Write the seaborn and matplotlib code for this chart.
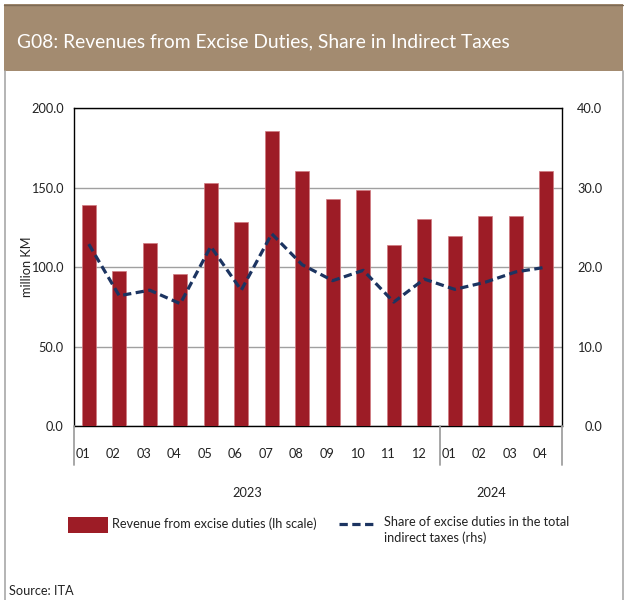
import numpy as np
import pandas as pd
import matplotlib
matplotlib.use("Agg")
import matplotlib.pyplot as plt
import matplotlib.transforms as mtransforms
from matplotlib.patches import Rectangle
from matplotlib.lines import Line2D
import seaborn as sns

# Monthly data, Jan 2023 - Apr 2024
years = ["2023"] * 12 + ["2024"] * 4
months = ["01", "02", "03", "04", "05", "06", "07", "08", "09", "10", "11", "12",
          "01", "02", "03", "04"]
revenue = [139.0, 97.5, 115.0, 96.0, 153.0, 128.3, 186.0, 160.8, 142.8, 148.4,
           113.8, 130.2, 119.7, 132.0, 132.0, 160.8]
share = [22.9, 16.4, 17.1, 15.4, 22.6, 17.1, 24.2, 20.3, 18.3, 19.6,
         15.6, 18.5, 17.2, 18.1, 19.4, 20.0]

bar_label = "Revenue from excise duties (lh scale)"
line_label = "Share of excise duties in the total\nindirect taxes (rhs)"
title = "G08: Revenues from Excise Duties, Share in Indirect Taxes"

df = pd.DataFrame({"year": years, "month": months,
                   "revenue": revenue, "share": share})
df["period"] = df["year"] + "-" + df["month"]
df["pos"] = np.arange(len(df))

sns.set_theme(style="white")
plt.rcParams["font.family"] = ["Lato", "DejaVu Sans"]

W, H = 624, 600
fig = plt.figure(figsize=(W / 100, H / 100), dpi=100)

RED = "#9d1c26"
NAVY = "#1c3461"
BAND = "#a38b70"
TXT = "#222222"
FS = 9.2

# Header band and outer frame
fig.patches.append(Rectangle((4 / W, 1 - 71 / H), 619 / W, 67 / H,
                             transform=fig.transFigure, facecolor=BAND,
                             edgecolor="none", zorder=0))
fig.lines.append(Line2D([4 / W, 623 / W], [1 - 4.5 / H, 1 - 4.5 / H],
                        transform=fig.transFigure, color="#7d6a55", lw=1))
for xf in (4.5 / W, 622.5 / W):
    fig.lines.append(Line2D([xf, xf], [0, 1 - 71 / H],
                            transform=fig.transFigure, color="#a8a8a8", lw=1.2))
fig.text(17 / W, 1 - 42 / H, title, color="white", fontsize=13.9,
         ha="left", va="center")

ax = fig.add_axes([73.5 / W, 1 - 426 / H, 488 / W, 317.7 / H])
sns.barplot(data=df, x="period", y="revenue", order=list(df["period"]),
            color=RED, width=0.46, saturation=1, ax=ax,
            edgecolor="#d07a80", linewidth=0.5, zorder=3)
ax.set_xlim(-0.5, len(df) - 0.5)
ax.set_ylim(0, 200)
ax.set_yticks(np.arange(0, 201, 50))
ax.set_yticklabels([f"{v:.1f}" for v in np.arange(0, 201, 50)])
ax.yaxis.grid(True, color="#a0a0a0", lw=1)
ax.set_axisbelow(True)
ax.set_xlabel("")
ax.set_ylabel("million KM", fontsize=FS, color=TXT)
ax.yaxis.set_label_coords((33 - 73.5) / 488, 0.5)
ax.tick_params(axis="y", length=0, pad=7, labelsize=FS, colors=TXT)
ax.set_xticks([])
for s in ax.spines.values():
    s.set_color("black")
    s.set_linewidth(1)

ax2 = ax.twinx()
sns.lineplot(data=df, x="pos", y="share", ax=ax2, color=NAVY, lw=2.3,
             zorder=4)
ax2.lines[0].set_dashes((2.6, 1.4))
ax2.set_ylim(0, 40)
ax2.set_xlim(-0.5, len(df) - 0.5)
ax2.set_yticks(np.arange(0, 41, 10))
ax2.set_yticklabels([f"{v:.1f}" for v in np.arange(0, 41, 10)])
ax2.tick_params(axis="y", length=0, pad=29.5, labelsize=FS, colors=TXT)
for lbl in ax2.get_yticklabels():
    lbl.set_horizontalalignment("right")
ax2.set_ylabel("")
ax2.set_xlabel("")
ax2.grid(False)
for s in ax2.spines.values():
    s.set_visible(False)

# Month labels and year group separators below the axis
shift = mtransforms.ScaledTranslation(-6 / 100, 0, fig.dpi_scale_trans)
xt = mtransforms.blended_transform_factory(ax.transData, fig.transFigure)
for p, m in zip(df["pos"], df["month"]):
    fig.text(p, 1 - 454 / H, m, transform=xt + shift, ha="center",
             va="center", fontsize=FS, color=TXT)
n23 = years.count("2023")
for xs in (-0.5, n23 - 0.5, len(df) - 0.5):
    fig.lines.append(Line2D([xs, xs], [1 - 426 / H, 1 - 465 / H],
                            transform=xt, color="#a0a0a0", lw=1.3))
for yr, xc in (("2023", (n23 - 1) / 2 - 0.3), ("2024", n23 + 1.5 - 0.3)):
    fig.text(xc, 1 - 493 / H, yr, transform=xt, ha="center", va="center",
             fontsize=FS, color=TXT)

# Legend
fig.patches.append(Rectangle((68 / W, 1 - 533 / H), 40 / W, 16 / H,
                             transform=fig.transFigure, facecolor=RED,
                             edgecolor="none"))
fig.text(112 / W, 1 - 524 / H, bar_label, ha="left", va="center",
         fontsize=FS, color=TXT)
leg_line = Line2D([339 / W, 377 / W], [1 - 524 / H, 1 - 524 / H],
                  transform=fig.transFigure, color=NAVY, lw=2.3)
leg_line.set_dashes((2.6, 1.4))
fig.lines.append(leg_line)
fig.text(384 / W, 1 - 516 / H, line_label, ha="left", va="top",
         fontsize=FS, color=TXT, linespacing=1.35)

fig.text(9 / W, 1 - 591 / H, "Source: ITA", ha="left", va="center",
         fontsize=FS, color=TXT)

fig.savefig("out.png", dpi=100)
